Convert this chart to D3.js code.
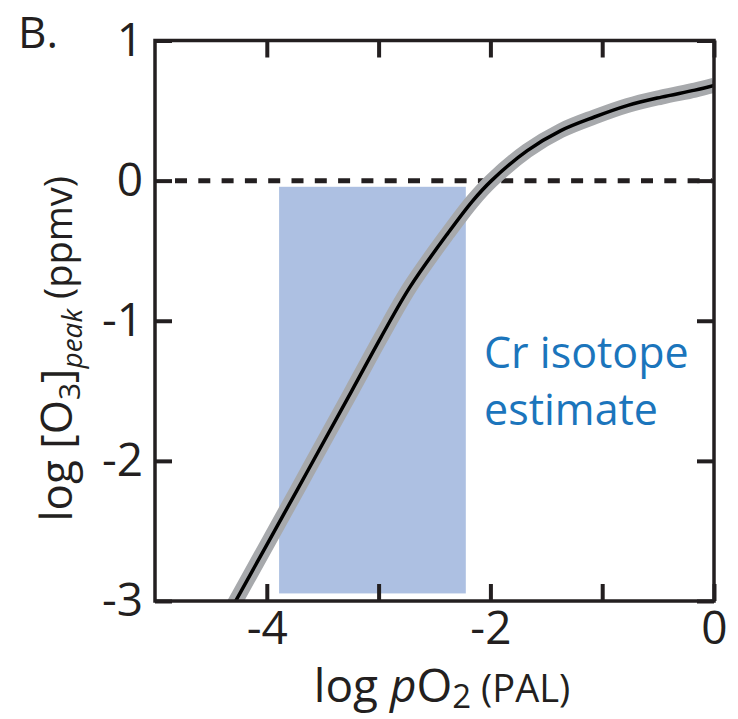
<!DOCTYPE html>
<html>
<head>
<meta charset="utf-8">
<script src="https://cdn.jsdelivr.net/npm/d3@7.9.0/dist/d3.min.js"></script>
<style>
  body { margin: 0; background: #fff; }
  svg { display: block; font-family: "Open Sans", sans-serif; }
</style>
</head>
<body>
<svg id="chart" width="738" height="719"></svg>
<script>
// model curve: log pO2 (PAL) vs log [O3]peak (ppmv)
const curveX = [-4.32, -3.73, -3.24, -2.98, -2.72, -2.38, -2.16, -1.99, -1.67, -1.37, -1.07, -0.77, -0.47, -0.17, 0.0];
const curveY = [-3.06, -2.21, -1.50, -1.12, -0.76, -0.375, -0.146, 0.0, 0.214, 0.357, 0.454, 0.537, 0.596, 0.646, 0.68];

// Cr isotope estimate box
const boxX = [-3.89, -2.22];
const boxY = [-2.946, -0.044];

const xTicks = [-4, -3, -2, -1, 0];
const xLabels = [-4, -2, 0];
const yTicks = [1, 0, -1, -2, -3];

const W = 738, H = 719;
const margin = { top: 40.5, right: 24, bottom: 118, left: 155 };
const svg = d3.select('#chart');

const x = d3.scaleLinear().domain([-5, 0]).range([margin.left, W - margin.right]);
const y = d3.scaleLinear().domain([-3, 1]).range([H - margin.bottom, margin.top]);

const ink = '#231f20';

svg.append('clipPath').attr('id', 'plot')
  .append('rect')
    .attr('x', x(-5)).attr('y', y(1))
    .attr('width', x(0) - x(-5)).attr('height', y(-3) - y(1));

// blue box
svg.append('rect')
  .attr('x', x(boxX[0])).attr('y', y(boxY[1]))
  .attr('width', x(boxX[1]) - x(boxX[0]))
  .attr('height', y(boxY[0]) - y(boxY[1]))
  .attr('fill', '#adc0e2');

// dashed zero line
svg.append('line')
  .attr('x1', x(-5) + 20).attr('x2', x(0) - 2)
  .attr('y1', y(0)).attr('y2', y(0))
  .attr('stroke', ink).attr('stroke-width', 5)
  .attr('stroke-dasharray', '12,11.3');

const pts = curveX.map((d, i) => [d, curveY[i]]);
const line = d3.line().x(d => x(d[0])).y(d => y(d[1])).curve(d3.curveCatmullRom.alpha(0.5));

const g = svg.append('g').attr('clip-path', 'url(#plot)');
g.append('path').datum(pts).attr('d', line)
  .attr('fill', 'none').attr('stroke', '#a7a9ac').attr('stroke-width', 15);
g.append('path').datum(pts).attr('d', line)
  .attr('fill', 'none').attr('stroke', '#000').attr('stroke-width', 3.5);

// axes, ticks pointing inward
const fmt = d => xLabels.includes(d) ? String(d) : '';
const axBottom = svg.append('g').attr('transform', `translate(0,${y(-3)})`)
  .call(d3.axisBottom(x).tickValues(xTicks).tickFormat(fmt).tickSizeInner(-17).tickSizeOuter(0).tickPadding(10));
const axTop = svg.append('g').attr('transform', `translate(0,${y(1)})`)
  .call(d3.axisTop(x).tickValues(xTicks).tickFormat('').tickSizeInner(-17).tickSizeOuter(0));
const axLeft = svg.append('g').attr('transform', `translate(${x(-5)},0)`)
  .call(d3.axisLeft(y).tickValues(yTicks).tickFormat(d => String(d)).tickSizeInner(-17).tickSizeOuter(0).tickPadding(12));
const axRight = svg.append('g').attr('transform', `translate(${x(0)},0)`)
  .call(d3.axisRight(y).tickValues(yTicks).tickFormat('').tickSizeInner(-17).tickSizeOuter(0));

[axBottom, axTop, axLeft, axRight].forEach(a => {
  a.attr('font-family', null).attr('font-size', null);
  a.select('.domain').remove();
  a.selectAll('line').attr('stroke', ink).attr('stroke-width', 4);
  a.selectAll('text').attr('fill', ink).style('font-size', '46px');
});

// frame
svg.append('rect')
  .attr('x', x(-5)).attr('y', y(1))
  .attr('width', x(0) - x(-5)).attr('height', y(-3) - y(1))
  .attr('fill', 'none').attr('stroke', ink).attr('stroke-width', 3.5);

// panel letter
svg.append('text').attr('x', 18).attr('y', 48)
  .attr('fill', ink).style('font-size', '44px').text('B.');

// x title
const xt = svg.append('text')
  .attr('x', 442).attr('y', 702)
  .attr('text-anchor', 'middle').attr('fill', ink).style('font-size', '46px');
xt.append('tspan').text('log ');
xt.append('tspan').style('font-style', 'italic').text('p');
xt.append('tspan').text('O');
xt.append('tspan').attr('dy', 6).style('font-size', '33px').text('2');
xt.append('tspan').attr('dy', -6).style('font-size', '38px').text(' (PAL)');

// y title
const yt = svg.append('text')
  .attr('transform', `translate(72,${y(-1.2)}) rotate(-90)`)
  .attr('text-anchor', 'middle').attr('fill', ink).style('font-size', '44px');
yt.append('tspan').text('log [O');
yt.append('tspan').attr('dy', 8).style('font-size', '30px').text('3');
yt.append('tspan').attr('dy', -8).text(']');
yt.append('tspan').attr('dy', 10).style('font-size', '28px').style('font-style', 'italic').text('peak');
yt.append('tspan').attr('dy', -10).style('font-size', '38px').text(' (ppmv)');

// annotation
const ann = svg.append('text').attr('fill', '#1b75bc').style('font-size', '43px');
ann.append('tspan').attr('x', 484).attr('y', 368).text('Cr isotope');
ann.append('tspan').attr('x', 484).attr('y', 425).text('estimate');
</script>
</body>
</html>
